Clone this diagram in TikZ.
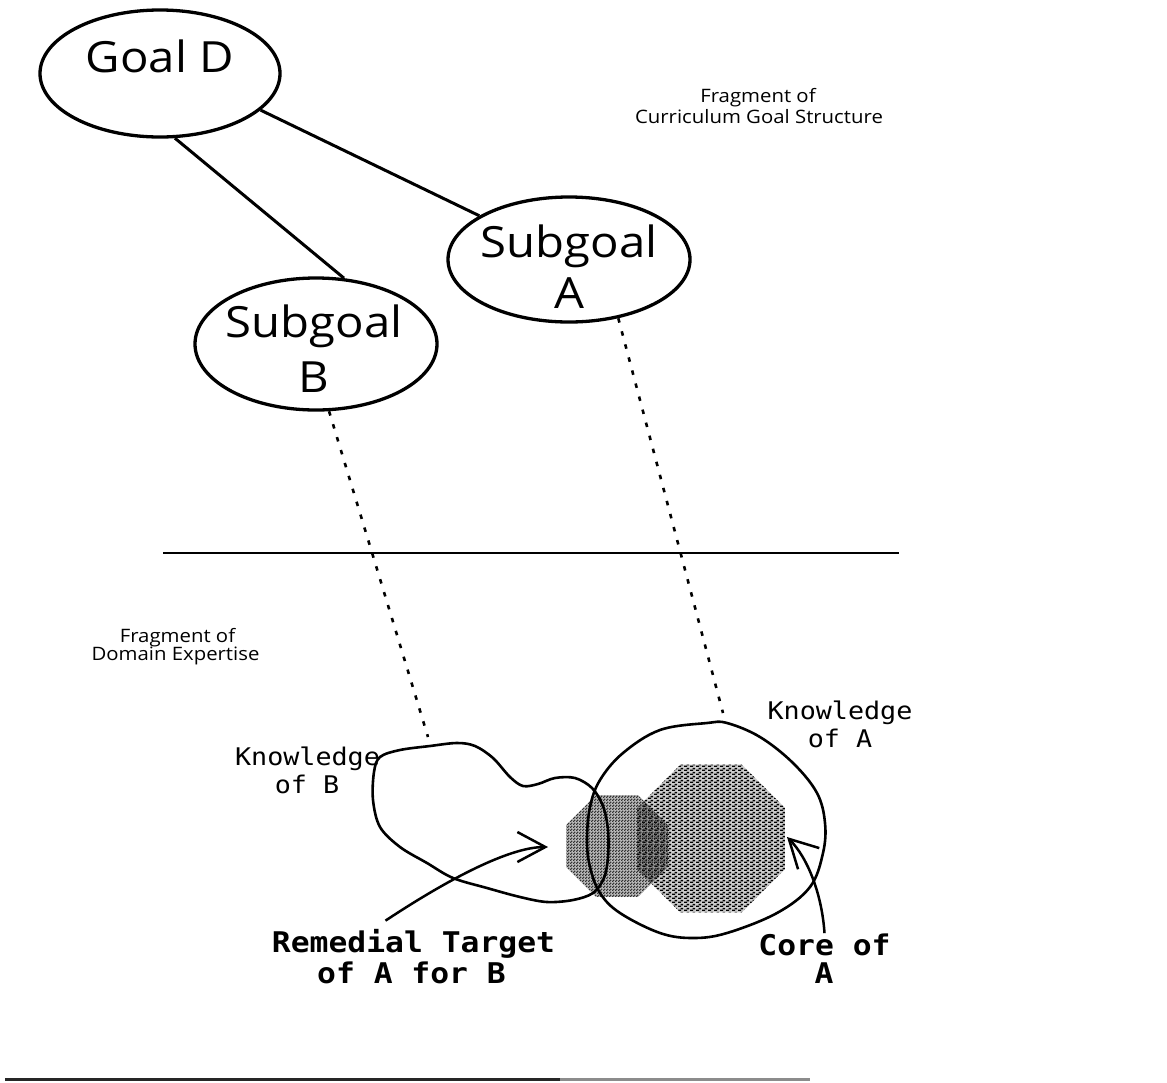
\documentclass[tikz,border=0pt]{standalone}
\usepackage{fontspec}
\setmainfont{Open Sans}[FakeStretch=1.1]
\setmonofont{DejaVu Sans Mono}[FakeStretch=1.1]
\usetikzlibrary{shapes.geometric,arrows.meta,patterns.meta}

\tikzdeclarepattern{
  name=coredash, type=uncolored,
  bottom left={(0pt,0pt)}, top right={(6pt,4pt)}, tile size={(6pt,4pt)},
  code={\fill (0pt,0pt) rectangle (3.5pt,1.8pt); \fill (3pt,2pt) rectangle (6pt,3.8pt);}
}
\tikzdeclarepattern{
  name=targetdots, type=uncolored,
  bottom left={(0pt,0pt)}, top right={(3pt,3pt)}, tile size={(3pt,3pt)},
  code={\fill (0pt,0pt) rectangle (1.9pt,1.9pt); \fill (1.4pt,1.4pt) rectangle (3pt,3pt);}
}

\tikzset{
  goal/.style={draw, ellipse, line width=3.3pt, inner sep=0pt},
  bigtxt/.style={font=\fontsize{43}{50}\selectfont, inner sep=0pt, anchor=base},
  smalltxt/.style={font=\fontsize{18.5}{21}\selectfont, inner sep=0pt, anchor=base},
  monotxt/.style={font=\ttfamily\fontsize{24.3}{28}\selectfont, inner sep=0pt, anchor=base},
  boldtxt/.style={font=\ttfamily\bfseries\fontsize{28.5}{31}\selectfont, inner sep=0pt, anchor=base},
  link/.style={line width=3pt},
  pointer/.style={line width=2.6pt, dash pattern=on 4.5pt off 9pt},
  blob/.style={line width=2.6pt},
  shade8/.style={regular polygon, regular polygon sides=8, inner sep=0pt}
}

\begin{document}
\begin{tikzpicture}[x=1pt, y=-1pt, >={Straight Barb[length=28pt,width=30pt]}]
\useasboundingbox (0,0) rectangle (1167,1082);

% goal structure
\node[goal, minimum width=240pt, minimum height=127pt] (goalD) at (160,73.5) {};
\node[bigtxt] (goalDt) at (160,72) {Goal D};
\node[goal, minimum width=242pt, minimum height=125pt] (subA) at (569,259.5) {};
\node[bigtxt] (subA1) at (569,257) {Subgoal};
\node[bigtxt] (subA2) at (569,308) {A};
\node[goal, minimum width=242pt, minimum height=132pt] (subB) at (316,344) {};
\node[bigtxt] (subB1) at (314,337) {Subgoal};
\node[bigtxt] (subB2) at (314,392) {B};

\draw[link] (goalD.-20) -- (subA.154);
\draw[link] (goalD.-77) -- (subB.67);

\node[smalltxt] (frag1) at (758,102.5) {Fragment of};
\node[smalltxt] (frag2) at (759,123) {Curriculum Goal Structure};

\draw[line width=2.2pt] (163,553) -- (899,553);

\node[smalltxt] (dom1) at (177.5,642) {Fragment of};
\node[smalltxt] (dom2) at (175.5,660) {Domain Expertise};

% domain expertise
\node[shade8, minimum size=160pt, preaction={fill=black, fill opacity=.2}, pattern=coredash, pattern color=black] (core) at (711,838.5) {};
\node[shade8, minimum size=110pt, preaction={fill=black, fill opacity=.25}, pattern=targetdots, pattern color=black!80] (target) at (617,846) {};

\draw[blob] plot[smooth cycle, tension=.55] coordinates {(380,757) (400,750) (430,746) (457,743) (475,746) (493,758) (510,777) (523,786) (538,784) (555,778) (575,778) (592,788) (603,806) (608,830) (608,857) (604,878) (593,893) (573,900) (547,902) (520,897) (487,888) (453,878) (427,863) (400,847) (380,827) (373,800) (374,772)};
\draw[blob] plot[smooth cycle, tension=.6] coordinates {(707,723) (660,730) (623,753) (600,780) (590,807) (587,840) (590,867) (600,893) (620,913) (660,933) (693,938) (727,933) (777,913) (810,887) (823,853) (825,823) (817,793) (793,763) (760,737) (727,723)};

\coordinate (kB) at (428,737);
\coordinate (kA) at (723,713);
\draw[pointer] (subB.-79) -- (kB);
\draw[pointer] (subA.-50) -- (kA);

\node[monotxt] (knB1) at (307.5,765) {Knowledge};
\node[monotxt] (knB2) at (307,793) {of B};
\node[monotxt] (knA1) at (840,719) {Knowledge};
\node[monotxt] (knA2) at (840,747) {of A};

\node[boldtxt] (rem1) at (413.5,952) {Remedial Target};
\node[boldtxt] (rem2) at (411.5,983) {of A for B};
\node[boldtxt] (core1) at (824.5,955) {Core of};
\node[boldtxt] (core2) at (824,983) {A};

\coordinate (remTip) at (548,847);
\coordinate (coreTip) at (787,837);
\draw[->, line width=2.5pt] ([xshift=-28pt,yshift=8pt]rem1.north) .. controls (450,878) and (510,847) .. (remTip);
\draw[->, line width=2.5pt] (core1.north) .. controls (822,895) and (808,858) .. (coreTip);

\draw[line width=3pt, black!85] (5,1079) -- (560,1079);
\draw[line width=3pt, black!45] (560,1079) -- (810,1079);

\end{tikzpicture}
\end{document}
